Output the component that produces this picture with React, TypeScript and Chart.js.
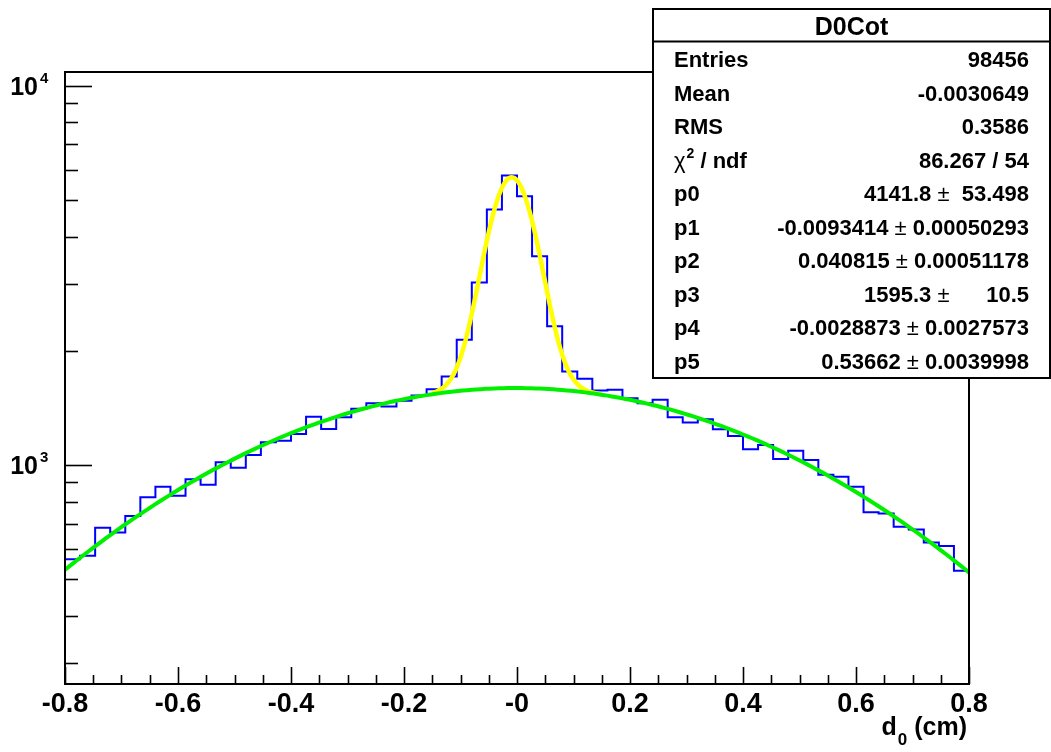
import React, { useEffect, useRef } from "react";
import { Chart, registerables } from "chart.js";

Chart.register(...registerables);

// ---------- data ----------
const X_MIN = -0.8;
const X_MAX = 0.8;
const Y_MIN = 264.6;
const Y_MAX = 10868;

// 60 bins from -0.8 to 0.8 (bin contents)
const binCounts = [
  564, 576, 683, 664, 734, 822, 876, 830, 917, 887,
  1017, 984, 1063, 1148, 1159, 1207, 1341, 1245, 1337, 1406,
  1455, 1426, 1476, 1524, 1585, 1712, 2140, 3030, 4718, 5800,
  5115, 3550, 2320, 1764, 1687, 1572, 1578, 1500, 1455, 1485,
  1337, 1294, 1320, 1243, 1193, 1100, 1129, 1037, 1091, 1031,
  943, 931, 876, 751, 745, 687, 676, 625, 612, 526,
];

const xTickLabels = ["-0.8", "-0.6", "-0.4", "-0.2", "-0", "0.2", "0.4", "0.6", "0.8"];
const yDecadeValues = [1000, 10000];
const yDecadeExponents = ["3", "4"];
const xTitleMain = "d";
const xTitleSub = "0";
const xTitleRest = " (cm)";

// fit parameters (shown in the stats box): p0..p5
const fitParams = [4141.8, -0.0093414, 0.040815, 1595.3, -0.0028873, 0.53662];
const narrowFitRange = [-0.15, 0.15];

const statsTitle = "D0Cot";
const statsLabels = ["Entries", "Mean", "RMS", "CHI2", "p0", "p1", "p2", "p3", "p4", "p5"];
const statsValues = ["98456", "-0.0030649", "0.3586", "86.267 / 54", "4141.8", "-0.0093414", "0.040815", "1595.3", "-0.0028873", "0.53662"];
const statsErrors = ["", "", "", "", "  53.498", " 0.00050293", " 0.00051178", "      10.5", " 0.0027573", " 0.0039998"];

const FONT = '"Liberation Sans", Arial, Helvetica, sans-serif';

function broadGauss(x: number) {
  const [, , , p3, p4, p5] = fitParams;
  return p3 * Math.exp(-0.5 * ((x - p4) / p5) ** 2);
}
function totalFit(x: number) {
  const [p0, p1, p2] = fitParams;
  return p0 * Math.exp(-0.5 * ((x - p1) / p2) ** 2) + broadGauss(x);
}

const rootPlugin = {
  id: "rootDecor",
  afterDraw(chart: any) {
    const ctx = chart.ctx as CanvasRenderingContext2D;
    const { left, right, top, bottom } = chart.chartArea;
    const xs = chart.scales.x;
    const ys = chart.scales.y;
    ctx.save();
    ctx.strokeStyle = "#000";
    ctx.fillStyle = "#000";

    // ticks (inward, ROOT style)
    ctx.lineWidth = 1.6;
    const nMinor = Math.round((X_MAX - X_MIN) / 0.05);
    for (let k = 0; k <= nMinor; k++) {
      const v = X_MIN + k * 0.05;
      const px = Math.round(xs.getPixelForValue(v)) + 0.5;
      const len = k % 4 === 0 ? 17 : 9;
      ctx.beginPath();
      ctx.moveTo(px, bottom);
      ctx.lineTo(px, bottom - len);
      ctx.stroke();
    }
    for (const dec of [100, 1000, 10000]) {
      for (let m = 1; m <= 9; m++) {
        const v = m * dec;
        if (v < Y_MIN || v > Y_MAX) continue;
        const py = Math.round(ys.getPixelForValue(v)) + 0.5;
        const len = m === 1 ? 27 : 13;
        ctx.beginPath();
        ctx.moveTo(left, py);
        ctx.lineTo(left + len, py);
        ctx.stroke();
      }
    }

    // frame
    ctx.lineWidth = 2;
    ctx.strokeRect(left, top, right - left, bottom - top);

    // y labels 10^n
    yDecadeValues.forEach((v, i) => {
      const py = ys.getPixelForValue(v);
      ctx.font = `bold 25px ${FONT}`;
      ctx.textAlign = "right";
      ctx.textBaseline = "alphabetic";
      ctx.fillText("10", 38, py + 9);
      ctx.font = `bold 15px ${FONT}`;
      ctx.textAlign = "left";
      ctx.fillText(yDecadeExponents[i], 40, py - 3);
    });

    // x title
    ctx.textBaseline = "alphabetic";
    ctx.textAlign = "right";
    ctx.font = `bold 25px ${FONT}`;
    let xr = right - 2;
    ctx.fillText(xTitleRest, xr, 735);
    xr -= ctx.measureText(xTitleRest).width;
    ctx.font = `bold 17px ${FONT}`;
    ctx.fillText(xTitleSub, xr, 745);
    xr -= ctx.measureText(xTitleSub).width + 1;
    ctx.font = `bold 25px ${FONT}`;
    ctx.fillText(xTitleMain, xr, 735);

    // stats box
    const bx = 653, by = 9, bw = 397, bh = 369;
    ctx.fillStyle = "#fff";
    ctx.fillRect(bx, by, bw, bh);
    ctx.fillStyle = "#000";
    ctx.lineWidth = 2;
    ctx.strokeRect(bx, by, bw, bh);
    ctx.beginPath();
    ctx.moveTo(bx, 41.5);
    ctx.lineTo(bx + bw, 41.5);
    ctx.stroke();

    ctx.font = `bold 25px ${FONT}`;
    ctx.textAlign = "center";
    ctx.fillText(statsTitle, bx + bw / 2, 34.5);

    const L = 674;
    const R = 1029;
    statsLabels.forEach((lab, i) => {
      const base = 67 + i * 33.5;
      ctx.textAlign = "left";
      if (lab === "CHI2") {
        ctx.font = `22px ${FONT}`;
        ctx.fillText("\u03c7", L, base);
        let w = ctx.measureText("\u03c7").width;
        ctx.font = `bold 14px ${FONT}`;
        ctx.fillText("2", L + w + 1, base - 10);
        w += ctx.measureText("2").width + 1;
        ctx.font = `bold 22px ${FONT}`;
        ctx.fillText(" / ndf", L + w, base);
      } else {
        ctx.font = `bold 22px ${FONT}`;
        ctx.fillText(lab, L, base);
      }
      ctx.textAlign = "right";
      const err = statsErrors[i];
      if (!err) {
        ctx.font = `bold 22px ${FONT}`;
        ctx.fillText(statsValues[i], R, base);
      } else {
        ctx.font = `bold 22px ${FONT}`;
        ctx.fillText(err, R, base);
        let x = R - ctx.measureText(err).width;
        ctx.font = `22px ${FONT}`;
        ctx.fillText("\u00b1", x, base);
        x -= ctx.measureText("\u00b1").width;
        ctx.font = `bold 22px ${FONT}`;
        ctx.fillText(statsValues[i] + " ", x, base);
      }
    });
    ctx.restore();
  },
};

export default function App() {
  const ref = useRef<HTMLCanvasElement>(null);
  useEffect(() => {
    const canvas = ref.current;
    if (!canvas) return;
    const nb = binCounts.length;
    const bw = (X_MAX - X_MIN) / nb;
    const histPts: { x: number; y: number }[] = [];
    binCounts.forEach((c, i) => {
      histPts.push({ x: X_MIN + i * bw, y: c });
      histPts.push({ x: X_MIN + (i + 1) * bw, y: c });
    });
    const greenPts: { x: number; y: number }[] = [];
    const nG = 200;
    for (let i = 0; i <= nG; i++) {
      const x = X_MIN + (i * (X_MAX - X_MIN)) / nG;
      greenPts.push({ x, y: broadGauss(x) });
    }
    const yellowPts: { x: number; y: number }[] = [];
    const nY = 120;
    for (let i = 0; i <= nY; i++) {
      const x = narrowFitRange[0] + (i * (narrowFitRange[1] - narrowFitRange[0])) / nY;
      yellowPts.push({ x, y: totalFit(x) });
    }

    const chart = new Chart(canvas, {
      type: "line",
      data: {
        datasets: [
          {
            data: greenPts,
            borderColor: "#00f000",
            borderWidth: 4,
            pointRadius: 0,
            tension: 0,
            order: 0,
            borderCapStyle: "round",
          } as any,
          {
            data: yellowPts,
            borderColor: "#ffff00",
            borderWidth: 4.5,
            pointRadius: 0,
            tension: 0,
            order: 1,
          } as any,
          {
            data: histPts,
            borderColor: "#0000ff",
            borderWidth: 2,
            pointRadius: 0,
            tension: 0,
            order: 2,
          } as any,
        ],
      },
      options: {
        animation: false,
        responsive: false,
        devicePixelRatio: 1,
        layout: { padding: { left: 0, right: 82, top: 72, bottom: 0 } },
        plugins: { legend: { display: false }, tooltip: { enabled: false } },
        scales: {
          x: {
            type: "linear",
            min: X_MIN,
            max: X_MAX,
            grid: { display: false, drawTicks: false },
            border: { display: false },
            ticks: {
              stepSize: 0.2,
              autoSkip: false,
              maxRotation: 0,
              padding: 4,
              color: "#000",
              font: { family: FONT, size: 27, weight: "bold" },
              callback: (_v: any, i: number) => xTickLabels[i],
            },
            afterFit: (s: any) => {
              s.height = 68;
            },
          },
          y: {
            type: "logarithmic",
            min: Y_MIN,
            max: Y_MAX,
            grid: { display: false, drawTicks: false },
            border: { display: false },
            ticks: { display: false },
            afterFit: (s: any) => {
              s.width = 65;
            },
          },
        },
      } as any,
      plugins: [rootPlugin],
    });
    return () => chart.destroy();
  }, []);
  return (
    <div style={{ position: "absolute", left: 0, top: 0, width: 1051, height: 752, background: "#fff" }}>
      <canvas ref={ref} width={1051} height={752} style={{ display: "block", width: 1051, height: 752 }} />
    </div>
  );
}
